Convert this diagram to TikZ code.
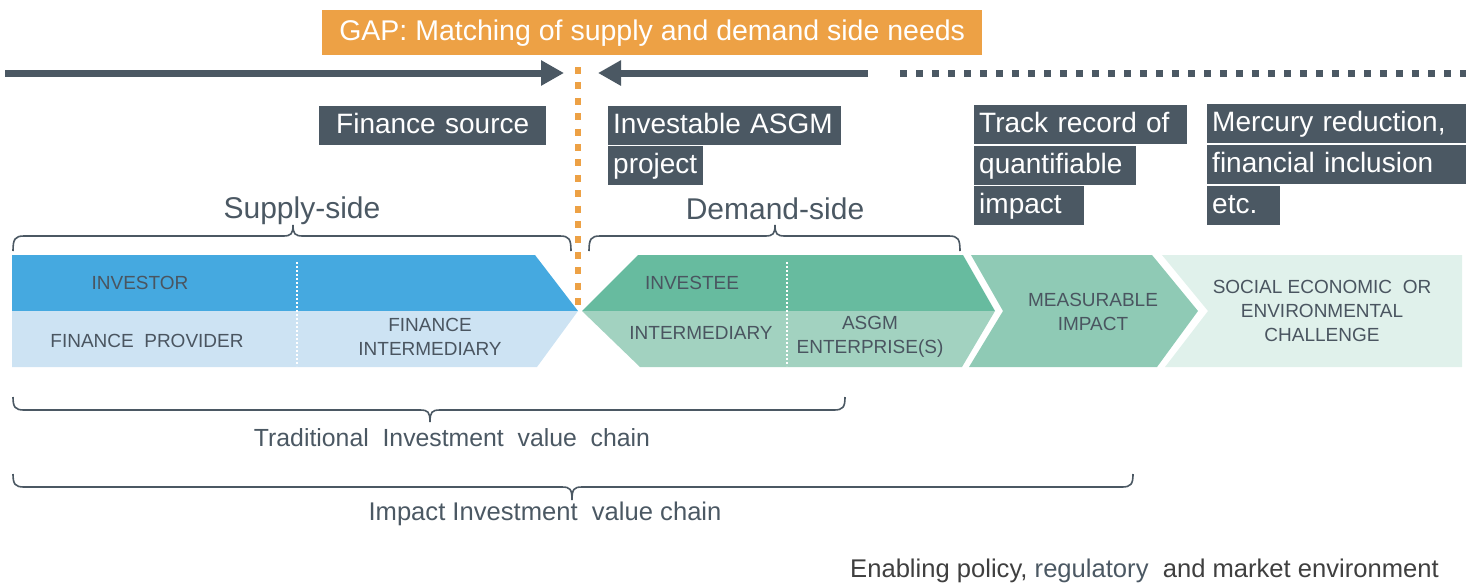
\documentclass[tikz,border=0pt]{standalone}
\usepackage{fontspec}
\setmainfont{Liberation Sans}
\usetikzlibrary{arrows.meta}
\definecolor{slate}{HTML}{4B5863}
\definecolor{gaporange}{HTML}{EDA145}
\definecolor{blueA}{HTML}{45A9E0}
\definecolor{blueB}{HTML}{CDE3F3}
\definecolor{greenA}{HTML}{67BB9F}
\definecolor{greenB}{HTML}{A2D2C0}
\definecolor{greenC}{HTML}{8FCAB5}
\definecolor{greenD}{HTML}{E0F1EB}
\definecolor{labeltext}{HTML}{4A5560}
\definecolor{envtext}{HTML}{3F3F3F}
\begin{document}
\begin{tikzpicture}[x=1pt,y=-1pt,
  graybox/.style={fill=slate, text=white, anchor=north west, inner xsep=5pt, inner ysep=6pt,
    text height=21pt, text depth=6pt, align=left, font=\fontsize{28}{32}\selectfont},
  chevtext/.style={text=labeltext, align=center, font=\fontsize{19}{24}\selectfont, inner sep=0pt},
  sidetext/.style={text=slate, font=\fontsize{30}{34}\selectfont, inner sep=0pt},
  chaintext/.style={text=slate, font=\fontsize{24.8}{28}\selectfont, inner sep=0pt},
  bracestyle/.style={draw=slate, line width=1.6pt},
  bigarrow/.style={slate, line width=7pt, -{Triangle[length=23pt,width=24pt]}},
  divider/.style={white, line width=1.3pt, dash pattern=on 2pt off 2pt}
]
\useasboundingbox (0,0) rectangle (1471,582);

% GAP title
\node[fill=gaporange, text=white, anchor=north west, minimum width=660pt, minimum height=45pt,
  inner sep=0pt, font=\fontsize{28.5}{32}\selectfont] (gap) at (322,10) {GAP: Matching of supply and demand side needs};

% arrows
\coordinate (arrLstart) at (5,73);
\coordinate (arrLend) at (564,73);
\coordinate (arrRstart) at (868,73);
\coordinate (arrRend) at (598,73);
\coordinate (dotStart) at (900,73);
\coordinate (dotEnd) at (1466,73);
\draw[bigarrow] (arrLstart) -- (arrLend);
\draw[bigarrow] (arrRstart) -- (arrRend);
\draw[slate, line width=7pt, dash pattern=on 7pt off 9pt] (dotStart) -- (dotEnd);

% chevrons
\fill[blueA] (12,255) -- (535,255) -- (578,311) -- (12,311) -- cycle;
\fill[blueB] (12,311) -- (578,311) -- (537,367) -- (12,367) -- cycle;
\draw[divider] (297,262) -- (297,366);

\fill[greenA] (582,311) -- (638,255) -- (963,255) -- (995,311) -- cycle;
\fill[greenB] (582,311) -- (995,311) -- (962,367) -- (640,367) -- cycle;
\draw[divider] (787,262) -- (787,366);

\fill[greenC] (971,255) -- (1152,255) -- (1198,311) -- (1157,367) -- (969,367) -- (1003,311) -- cycle;
\fill[greenD] (1162,255) -- (1462,255) -- (1462,367) -- (1165,367) -- (1208,311) -- cycle;

% orange gap line
\coordinate (gapTop) at (578,67);
\coordinate (gapBot) at (578,313);
\draw[gaporange, line width=6.5pt, dash pattern=on 7pt off 8.4pt] (gapTop) -- (gapBot);

% chevron texts
\node[chevtext] (investor) at (140,283) {INVESTOR};
\node[chevtext] (provider) at (147,341) {FINANCE \ PROVIDER};
\node[chevtext] (finint) at (430,337) {FINANCE\\INTERMEDIARY};
\node[chevtext] (investee) at (692,283) {INVESTEE};
\node[chevtext] (interm) at (701,333) {INTERMEDIARY};
\node[chevtext] (asgm) at (870,337) {ASGM\\ENTERPRISE(S)};
\node[chevtext] (measurable) at (1093,312) {MEASURABLE\\IMPACT};
\node[chevtext] (social) at (1322,311) {SOCIAL ECONOMIC \ OR\\ENVIRONMENTAL\\CHALLENGE};

% gray boxes
\node[graybox, text width=217pt, align=center] (finsrc) at (319,106) {Finance source};
\node[graybox, text width=223pt] (invest1) at (608,106) {Investable ASGM};
\node[graybox, text width=85pt] (invest2) at (608,146) {project};
\node[graybox, text width=203pt] (track1) at (974,105) {Track record of};
\node[graybox, text width=152pt] (track2) at (974,146) {quantifiable};
\node[graybox, text width=100pt] (track3) at (974,186) {impact};
\node[graybox, text width=249pt] (merc1) at (1207,104) {Mercury reduction,};
\node[graybox, text width=249pt] (merc2) at (1207,145) {financial inclusion};
\node[graybox, text width=63pt] (merc3) at (1207,186) {etc.};

% side labels and braces
\node[sidetext] (supply) at (302,211) {Supply-side};
\node[sidetext] (demand) at (775,209) {Demand-side};
\draw[bracestyle] (13,251) .. controls (13,239) and (15,236) .. (24,236) -- (283,236)
  .. controls (291,236) and (293,234) .. (293,225) .. controls (293,234) and (295,236) .. (303,236)
  -- (560,236) .. controls (569,236) and (571,239) .. (571,251);
\draw[bracestyle] (589,251) .. controls (589,239) and (591,236) .. (600,236) -- (765,236)
  .. controls (773,236) and (775,234) .. (775,225) .. controls (775,234) and (777,236) .. (785,236)
  -- (949,236) .. controls (958,236) and (960,239) .. (960,251);

\draw[bracestyle] (13,397) .. controls (13,407) and (15,410) .. (24,410) -- (420,410)
  .. controls (428,410) and (430,412) .. (430,422) .. controls (430,412) and (432,410) .. (440,410)
  -- (834,410) .. controls (843,410) and (845,407) .. (845,397);
\node[chaintext] (trad) at (452,438) {Traditional \ Investment \ value \ chain};

\draw[bracestyle] (13,474) .. controls (13,484) and (15,487) .. (24,487) -- (562,487)
  .. controls (570,487) and (572,489) .. (572,500) .. controls (572,489) and (574,487) .. (582,487)
  -- (1122,487) .. controls (1131,487) and (1133,484) .. (1133,474);
\node[chaintext, font=\fontsize{25.6}{28}\selectfont] (impact) at (545,514) {Impact Investment \ value chain};

\node[anchor=base west, inner sep=0pt, text=envtext, font=\fontsize{25.6}{28}\selectfont] (env) at (850,577)
  {Enabling policy, \textcolor{slate}{regulatory} \ and market environment};
\end{tikzpicture}
\end{document}
